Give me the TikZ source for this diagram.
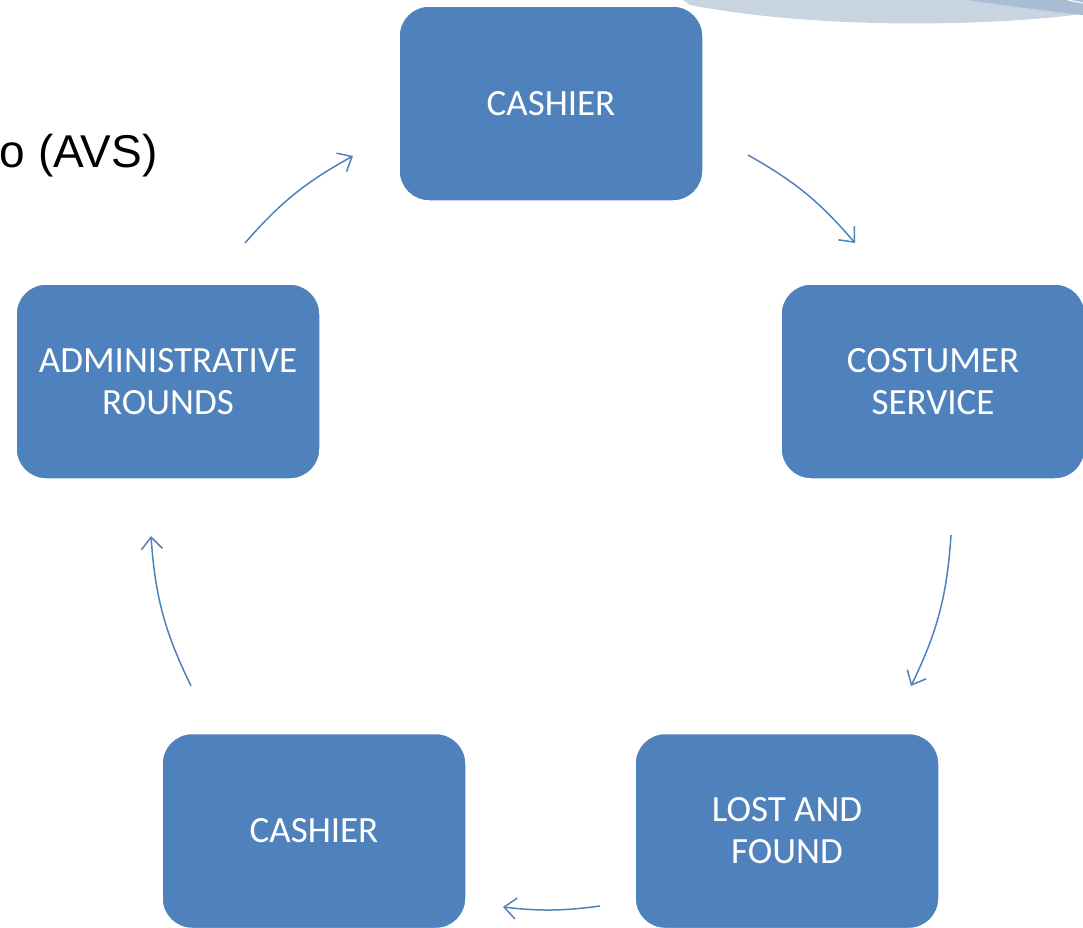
\documentclass[tikz,border=0pt]{standalone}
\usepackage{fontspec}
\setmainfont{Carlito}
\newfontfamily\arialfont{Liberation Sans}
\usetikzlibrary{arrows.meta}
\definecolor{boxblue}{HTML}{4F81BD}
\definecolor{swooshlight}{HTML}{C8D4DF}
\definecolor{swooshdark}{HTML}{A9BED6}
\tikzset{
  stage/.style={rectangle, rounded corners=30pt, fill=boxblue, draw=white, line width=1.5pt,
    text=white, minimum width=304pt, minimum height=195pt, align=center,
    font=\fontsize{37}{42}\selectfont},
  cyc/.style={draw=boxblue, line width=1.5pt, -{Straight Barb[length=12pt,width=21pt,line width=1.5pt]}}
}
\begin{document}
\begin{tikzpicture}[x=1pt,y=1pt]
      \useasboundingbox (0,0) rectangle (1083,-927);
      \clip (0,0) rectangle (1083,-927);
      % swoosh
      \fill[swooshlight] (683,0) -- (1083,0) -- (1083,-14) .. controls (990,-26) and (820,-30) .. (690,-5) -- cycle;
      \fill[swooshdark] (967,0) -- (1083,0) -- (1083,-15) .. controls (1040,-10) and (1000,-5) .. (967,0) -- cycle;
      \draw[white, line width=1pt] (1068,0) -- (1083,-3);
      \node[anchor=base east, font=\arialfont\fontsize{46}{52}\selectfont] (title) at (161,-167) {o (AVS)};
      % stages
      \node[stage] (cashtop) at (551,-103.5) {CASHIER};
      \node[stage] (service) at (933,-381.5) {COSTUMER\\SERVICE};
      \node[stage] (lost) at (787,-831) {LOST AND\\FOUND};
      \node[stage] (cashbot) at (314,-831) {CASHIER};
      \node[stage] (admin) at (168,-381.5) {ADMINISTRATIVE\\ROUNDS};
      % arrows
      \coordinate (s1) at (245,-243); \coordinate (e1) at (353,-156);
      \coordinate (s2) at (748,-155); \coordinate (e2) at (855,-243);
      \coordinate (s3) at (951,-535); \coordinate (e3) at (911,-686);
      \coordinate (s4) at (600,-906); \coordinate (e4) at (503,-907);
      \coordinate (s5) at (191,-686); \coordinate (e5) at (151,-536);
      \draw[cyc] (s1) to[bend left=10] (e1);
      \draw[cyc] (s2) to[bend left=10] (e2);
      \draw[cyc] (s3) to[bend left=11] (e3);
      \draw[cyc] (s4) to[bend left=7] (e4);
      \draw[cyc] (s5) to[bend left=11] (e5);
\end{tikzpicture}
\end{document}
